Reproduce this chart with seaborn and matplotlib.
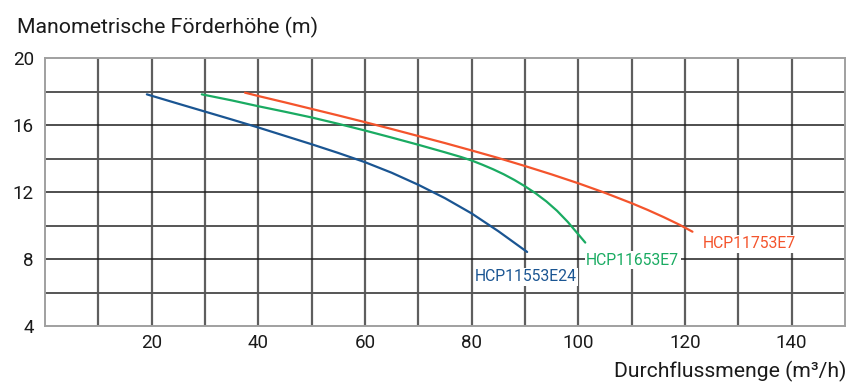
import matplotlib
matplotlib.use("Agg")
import matplotlib.pyplot as plt
import seaborn as sns
import pandas as pd

# ---- data ----
blue_x = [19.1, 25, 30, 35, 40, 45, 50, 55, 60, 65, 70, 75, 80, 85, 90.4]
blue_y = [17.83, 17.27, 16.8, 16.33, 15.85, 15.35, 14.85, 14.33, 13.78, 13.15, 12.43,
          11.63, 10.72, 9.66, 8.42]
green_x = [29.4, 35, 40, 45, 50, 55, 60, 65, 70, 75, 78, 80, 82, 84, 86, 88, 90, 92, 94,
           96, 98, 100, 101.3]
green_y = [17.83, 17.47, 17.12, 16.79, 16.45, 16.07, 15.67, 15.25, 14.82, 14.37, 14.09,
           13.88, 13.63, 13.36, 13.06, 12.72, 12.34, 11.92, 11.44, 10.88, 10.22, 9.47, 8.98]
red_x = [37.5, 40, 45, 50, 55, 60, 65, 70, 75, 80, 85, 90, 95, 100, 105, 110, 113, 116,
         119, 121.4]
red_y = [17.93, 17.73, 17.35, 16.96, 16.57, 16.17, 15.76, 15.34, 14.92, 14.48, 14.03,
         13.55, 13.05, 12.52, 11.95, 11.33, 10.93, 10.5, 10.04, 9.63]
models = ["HCP11553E24", "HCP11653E7", "HCP11753E7"]
label_x = [90.2, 110.2, 132.0]
label_y = [6.93, 7.94, 8.9]
x_ticks = [20, 40, 60, 80, 100, 120, 140]
y_ticks = [4, 8, 12, 16, 20]
title = "Manometrische Förderhöhe (m)"
xlabel = "Durchflussmenge (m³/h)"

colors = {"HCP11553E24": "#1a5592", "HCP11653E7": "#1aab62", "HCP11753E7": "#f4542c"}

frames = []
for name, xs, ys in zip(models, [blue_x, green_x, red_x], [blue_y, green_y, red_y]):
    frames.append(pd.DataFrame({"Q": xs, "H": ys, "model": name}))
df = pd.concat(frames, ignore_index=True)

sns.set_theme(style="white")
plt.rcParams["font.family"] = ["Roboto", "DejaVu Sans"]

fig = plt.figure(figsize=(8.49, 3.83), dpi=100)
ax = fig.add_axes([45 / 849, 57 / 383, 800 / 849, 268 / 383])

# grid
for gx in range(10, 150, 10):
    ax.axvline(gx, color="#5e5e5e", lw=1.6, zorder=0)
for gy in range(6, 20, 2):
    if gy % 4 == 0:
        ax.axhline(gy, color="#1e1e1e", lw=1.1, zorder=0)
    else:
        ax.axhline(gy, color="#555555", lw=1.4, zorder=0)

sns.lineplot(data=df, x="Q", y="H", hue="model", palette=colors, sort=False,
             estimator=None, lw=1.6, legend=False, ax=ax, zorder=3)

for name, lx, ly in zip(models, label_x, label_y):
    ax.text(lx, ly, name, color=colors[name], fontsize=11.3, ha="center", va="center",
            bbox=dict(facecolor="white", edgecolor="none", pad=1.0), zorder=4)

ax.set_xlim(0, 150)
ax.set_ylim(4, 20)
ax.set_xticks(x_ticks)
ax.set_yticks(y_ticks)
ax.tick_params(axis="both", length=0, labelsize=13.5, colors="#1a1a1a", pad=6)
ax.tick_params(axis="y", pad=8)
ax.set_xlabel("")
ax.set_ylabel("")
for s in ax.spines.values():
    s.set_color("#a0a0a0")
    s.set_linewidth(1.4)

fig.text(17 / 849, 1 - 33.5 / 383, title, fontsize=15.3, ha="left", va="baseline", color="#1a1a1a")
fig.text(846 / 849, 1 - 377 / 383, xlabel, fontsize=15.2, ha="right", va="baseline", color="#1a1a1a")

fig.savefig("out.png", dpi=100)
